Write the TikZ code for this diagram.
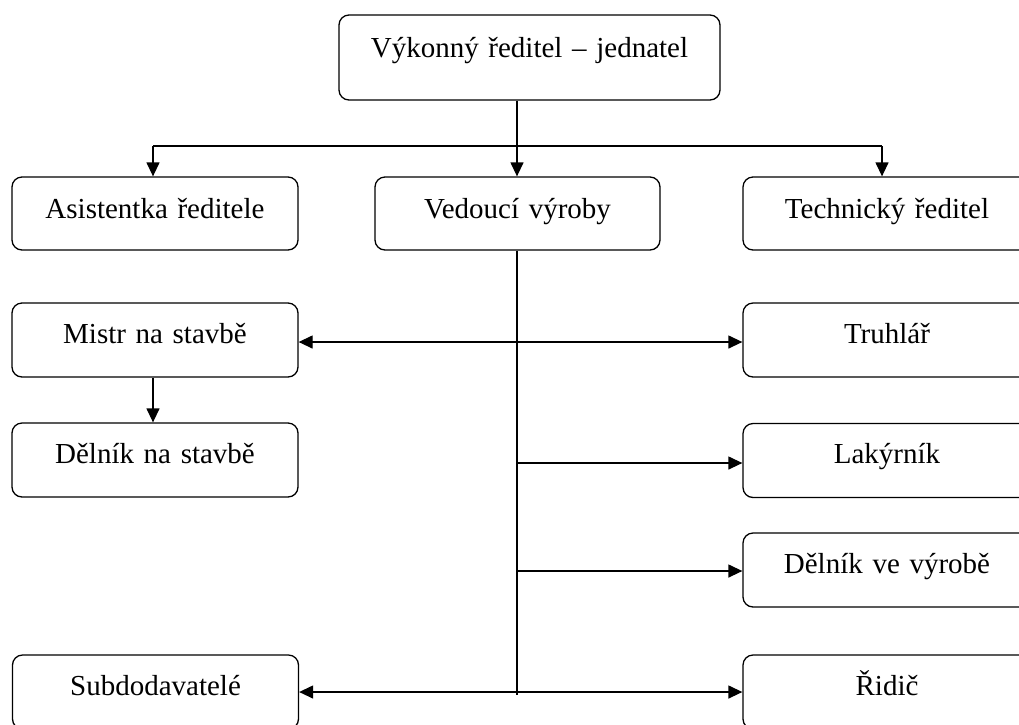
\documentclass[tikz,border=0pt]{standalone}
\usepackage{fontspec}
\setmainfont{Liberation Serif}
\usetikzlibrary{arrows.meta}
\begin{document}
\begin{tikzpicture}[x=1pt,y=-1pt,
  box/.style={draw, line width=1.3pt, rounded corners=10pt, inner sep=0pt,
    align=center, font=\fontsize{29}{34}\selectfont,
    text height=40pt, text depth=34pt},
  lbox/.style={box, text width=286pt},
  rbox/.style={box, text width=288pt},
  conn/.style={line width=1.3pt},
  arr/.style={conn, -{Triangle[length=14pt,width=13pt]}},
  darr/.style={conn, {Triangle[length=14pt,width=13pt]}-{Triangle[length=14pt,width=13pt]}}
]
\useasboundingbox (0,0) rectangle (1019,724);
\clip (0,0) rectangle (1019,724);

\node[box, text width=381pt, text height=42pt, text depth=43pt] (top) at (529.5,57.5) {Výkonný ředitel – jednatel};

\node[lbox, text height=41pt, text depth=32pt] (asist) at (155,213.5) {Asistentka ředitele};
\node[box, text width=285pt, text height=41pt, text depth=32pt] (ved) at (517.5,213.5) {Vedoucí výroby};
\node[rbox, text height=41pt, text depth=32pt] (tech) at (887,213.5) {Technický ředitel};

\node[lbox] (mistr) at (155,340) {Mistr na stavbě};
\node[rbox] (truh) at (887,340) {Truhlář};
\node[lbox] (delS) at (155,460) {Dělník na stavbě};
\node[rbox] (lak) at (887,460.5) {Lakýrník};
\node[rbox] (delV) at (887,570) {Dělník ve výrobě};
\node[lbox] (sub) at (155.5,692) {Subdodavatelé};
\node[rbox] (rid) at (887,692) {Řidič};

\coordinate (j) at (517,146);
\coordinate (jl) at (153,146);
\coordinate (jr) at (882,146);
\coordinate (s1) at (517,342);
\coordinate (s2) at (517,463);
\coordinate (s3) at (517,571);
\coordinate (s4) at (517,692);
\coordinate (send) at (517,695);

\draw[conn] (top.south -| j) -- (j);
\draw[conn] (jl) -- (jr);
\draw[arr] (jl) -- (jl |- asist.north);
\draw[arr] (j) -- (j |- ved.north);
\draw[arr] (jr) -- (jr |- tech.north);

\draw[conn] (ved.south -| send) -- (send);
\draw[darr] (mistr.east |- s1) -- (truh.west |- s1);
\draw[arr] (s2) -- (lak.west |- s2);
\draw[arr] (s3) -- (delV.west |- s3);
\draw[darr] (sub.east |- s4) -- (rid.west |- s4);
\draw[arr] (mistr.south -| jl) -- (delS.north -| jl);
\end{tikzpicture}
\end{document}
